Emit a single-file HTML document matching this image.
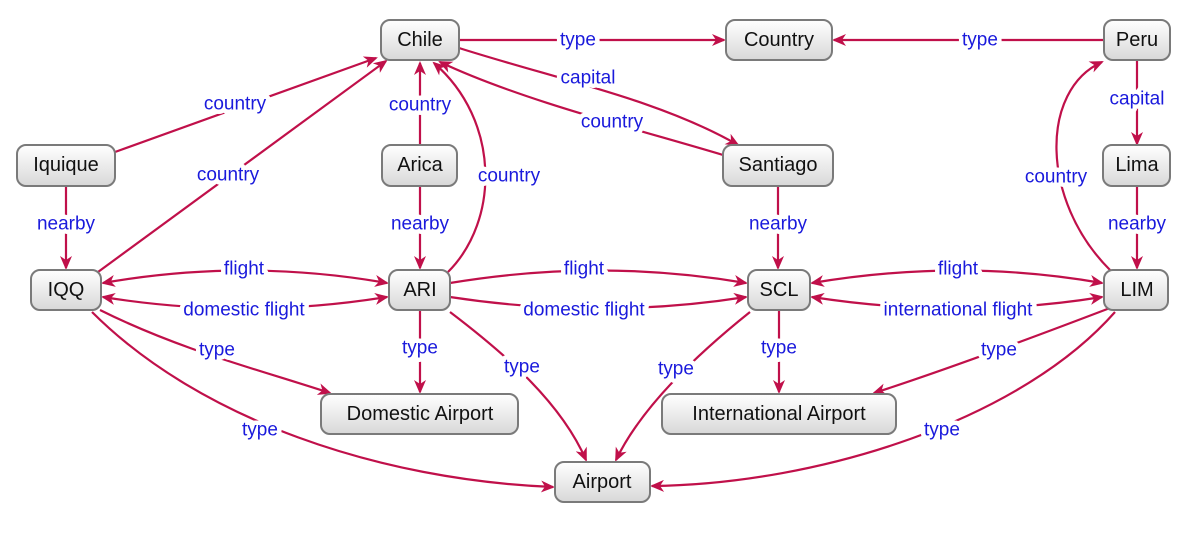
<!DOCTYPE html>
<html><head><meta charset="utf-8"><style>
html,body{margin:0;padding:0;background:#fff;}
svg{display:block;}
.e{fill:none;stroke:#c0104a;stroke-width:2.2;}
.l{font-family:"Liberation Sans",sans-serif;font-size:19px;fill:#1a1adc;text-anchor:middle;dominant-baseline:central;paint-order:stroke;stroke:#fff;stroke-width:9px;stroke-linejoin:round;}
.n rect{fill:url(#g);stroke:#7a7a7a;stroke-width:2;}
.n text{font-family:"Liberation Sans",sans-serif;font-size:20px;fill:#111;text-anchor:middle;dominant-baseline:central;}
</style></head><body>
<svg width="1195" height="535" viewBox="0 0 1195 535">
<defs>
<linearGradient id="g" x1="0" y1="0" x2="0" y2="1"><stop offset="0" stop-color="#ffffff"/><stop offset="1" stop-color="#d8d8d8"/></linearGradient>
<marker id="a" viewBox="0 0 14 12" refX="12" refY="6" markerWidth="14" markerHeight="12" orient="auto-start-reverse" markerUnits="userSpaceOnUse">
<path d="M0,0 L14,6 L0,12 L4,6 z" fill="#c0104a"/></marker>
</defs>
<g marker-end="url(#a)">
<path class="e" d="M459,40 L724,40"/>
<path class="e" d="M1104,40 L834,40"/>
<path class="e" d="M459,48 C560,80 660,100 738,145"/>
<path class="e" d="M723,155 C640,130 520,100 440,62"/>
<path class="e" d="M115,152 L376,58"/>
<path class="e" d="M98,272 L386,61"/>
<path class="e" d="M420,145 L420,63"/>
<path class="e" d="M448,272 C500,220 500,120 434,63"/>
<path class="e" d="M1137,60 L1137,144"/>
<path class="e" d="M1110,270 C1040,200 1040,90 1102,62"/>
<path class="e" d="M66,186 L66,268"/>
<path class="e" d="M420,186 L420,268"/>
<path class="e" d="M778,186 L778,268"/>
<path class="e" d="M1137,186 L1137,268"/>
<path class="e" d="M103,283 Q245,258 387,283" marker-start="url(#a)"/>
<path class="e" d="M103,297 Q245,320 387,297" marker-start="url(#a)"/>
<path class="e" d="M450,283 Q600,258 746,283"/>
<path class="e" d="M450,297 Q600,320 746,297"/>
<path class="e" d="M812,283 Q960,258 1102,283" marker-start="url(#a)"/>
<path class="e" d="M812,297 Q960,320 1102,297" marker-start="url(#a)"/>
<path class="e" d="M100,310 C180,350 260,370 330,393"/>
<path class="e" d="M92,312 C200,420 380,480 553,487"/>
<path class="e" d="M420,310 L420,392"/>
<path class="e" d="M450,312 C500,350 560,400 586,460"/>
<path class="e" d="M750,312 C690,360 640,410 616,460"/>
<path class="e" d="M779,310 L779,392"/>
<path class="e" d="M1110,308 C1000,350 930,375 874,393"/>
<path class="e" d="M1115,312 C1020,420 820,484 652,486"/>
</g>
<g class="l">
<text x="578" y="40">type</text>
<text x="980" y="40">type</text>
<text x="588" y="78">capital</text>
<text x="612" y="122">country</text>
<text x="235" y="104">country</text>
<text x="228" y="175">country</text>
<text x="420" y="105">country</text>
<text x="509" y="176">country</text>
<text x="1137" y="99">capital</text>
<text x="1056" y="177">country</text>
<text x="66" y="224">nearby</text>
<text x="420" y="224">nearby</text>
<text x="778" y="224">nearby</text>
<text x="1137" y="224">nearby</text>
<text x="244" y="269">flight</text>
<text x="244" y="310">domestic flight</text>
<text x="584" y="269">flight</text>
<text x="584" y="310">domestic flight</text>
<text x="958" y="269">flight</text>
<text x="958" y="310">international flight</text>
<text x="217" y="350">type</text>
<text x="260" y="430">type</text>
<text x="420" y="348">type</text>
<text x="522" y="367">type</text>
<text x="676" y="369">type</text>
<text x="779" y="348">type</text>
<text x="999" y="350">type</text>
<text x="942" y="430">type</text>
</g>
<g class="n">
<rect x="381" y="20" width="78" height="40" rx="9"/><text x="420" y="40">Chile</text>
<rect x="726" y="20" width="106" height="40" rx="9"/><text x="779" y="40">Country</text>
<rect x="1104" y="20" width="66" height="40" rx="9"/><text x="1137" y="40">Peru</text>
<rect x="17" y="145" width="98" height="41" rx="9"/><text x="66" y="165">Iquique</text>
<rect x="382" y="145" width="75" height="41" rx="9"/><text x="420" y="165">Arica</text>
<rect x="723" y="145" width="110" height="41" rx="9"/><text x="778" y="165">Santiago</text>
<rect x="1103" y="145" width="67" height="41" rx="9"/><text x="1137" y="165">Lima</text>
<rect x="31" y="270" width="70" height="40" rx="9"/><text x="66" y="290">IQQ</text>
<rect x="389" y="270" width="61" height="40" rx="9"/><text x="420" y="290">ARI</text>
<rect x="748" y="270" width="62" height="40" rx="9"/><text x="779" y="290">SCL</text>
<rect x="1104" y="270" width="64" height="40" rx="9"/><text x="1137" y="290">LIM</text>
<rect x="321" y="394" width="197" height="40" rx="9"/><text x="420" y="414">Domestic Airport</text>
<rect x="662" y="394" width="234" height="40" rx="9"/><text x="779" y="414">International Airport</text>
<rect x="555" y="462" width="95" height="40" rx="9"/><text x="602" y="482">Airport</text>
</g>
</svg>
</body></html>
